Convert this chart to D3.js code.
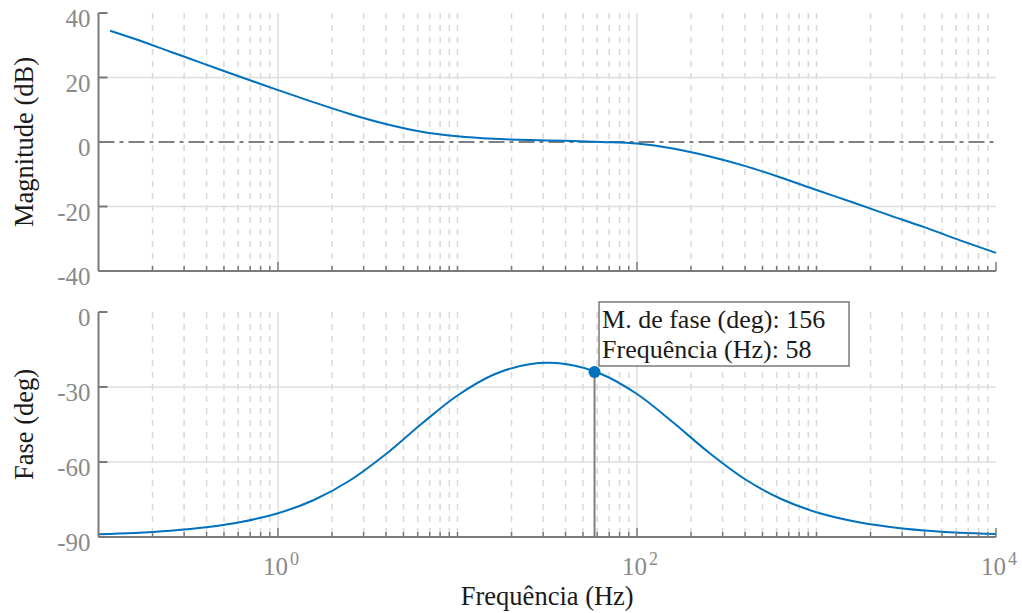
<!DOCTYPE html>
<html>
<head>
<meta charset="utf-8">
<script src="https://cdn.jsdelivr.net/npm/d3@7"></script>
<style>
  html, body { margin: 0; padding: 0; background: #fff; }
  svg { display: block; font-family: "Liberation Serif", "Times New Roman", serif; }
</style>
</head>
<body>
<svg id="chart" width="1022" height="613"></svg>
<script>
// ---- Data ----
const magFreq = [0.116, 0.1585, 0.2512, 0.3981, 0.631, 1, 1.585, 2.512, 3.981, 6.31, 10, 15.85, 25.12, 39.81, 63.1, 100, 158.5, 251.2, 398.1, 631, 1000, 1585, 2512, 3981, 6310, 10000];
const magDB   = [34.5, 32.0, 28.0, 24.0, 20.0, 16.1, 12.3, 8.7, 5.6, 3.2, 1.8, 1.0, 0.6, 0.4, 0.0, -0.5, -2.0, -4.4, -7.4, -11.0, -14.9, -18.7, -22.6, -26.4, -30.5, -34.4];

const phaseFreq = [0.1, 0.1585, 0.2512, 0.3981, 0.631, 1, 1.585, 2.512, 3.981, 6.31, 10, 15.85, 25.12, 39.81, 63.1, 100, 158.5, 251.2, 398.1, 631, 1000, 1585, 2512, 3981, 6310, 10000];
const phaseDeg  = [-88.9, -88.4, -87.5, -86.1, -83.9, -80.5, -75.2, -67.4, -56.9, -44.7, -33.4, -25.1, -20.9, -20.8, -24.8, -32.8, -44.1, -56.2, -66.8, -74.7, -80.1, -83.6, -85.9, -87.4, -88.3, -88.8];

const magTicks = [40, 20, 0, -20, -40];
const phaseTicks = [0, -30, -60, -90];
const xTickExponents = [0, 2, 4];

const markerFreq = 58;
const markerPhase = -24;
const markerLines = ["M. de fase (deg): 156", "Frequência (Hz): 58"];

const xLabel = "Frequência (Hz)";
const magLabel = "Magnitude (dB)";
const phaseLabel = "Fase (deg)";

// ---- Layout ----
const svg = d3.select("#chart");
const left = 98.5, right = 996;
const magTop = 13, magBottom = 271;
const phTop = 312, phBottom = 537;

const blue = "#0072BD";
const axisCol = "#7a7a7a";
const tickTextCol = "#8a8a8a";
const gridCol = "#dedede";
const minorCol = "#d8d8d8";

const x = d3.scaleLog().domain([0.1, 1e4]).range([left, right]);
const yMag = d3.scaleLinear().domain([-40, 40]).range([magBottom, magTop]);
const yPh = d3.scaleLinear().domain([-90, 0]).range([phBottom, phTop]);

// minor log positions (all except the labelled decades)
const majorVals = xTickExponents.map(e => Math.pow(10, e));
const minorVals = [];
for (let d = -1; d <= 3; d++) {
  for (let m = 1; m <= 9; m++) {
    const v = m * Math.pow(10, d);
    if (v <= 0.1 + 1e-9) continue;
    if (majorVals.some(mv => Math.abs(mv - v) < 1e-9)) continue;
    minorVals.push(v);
  }
}

function panel(y, top, bottom, ticks, zeroLine) {
  const g = svg.append("g");
  g.selectAll(".minor").data(minorVals).enter().append("line")
    .attr("x1", d => x(d)).attr("x2", d => x(d))
    .attr("y1", top).attr("y2", bottom)
    .attr("stroke", minorCol).attr("stroke-width", 1.5)
    .attr("stroke-dasharray", "6,6");
  g.selectAll(".major").data(majorVals.filter(v => x(v) < right - 1)).enter().append("line")
    .attr("x1", d => x(d)).attr("x2", d => x(d))
    .attr("y1", top).attr("y2", bottom)
    .attr("stroke", gridCol).attr("stroke-width", 1.5);
  const [lo, hi] = y.domain();
  g.selectAll(".hgrid").data(ticks.filter(t => t !== lo && t !== hi && !(zeroLine && t === 0))).enter().append("line")
    .attr("x1", left).attr("x2", right)
    .attr("y1", d => y(d)).attr("y2", d => y(d))
    .attr("stroke", gridCol).attr("stroke-width", 1.5);
  if (zeroLine) {
    g.append("line")
      .attr("x1", left).attr("x2", right)
      .attr("y1", y(0)).attr("y2", y(0))
      .attr("stroke", "#808080").attr("stroke-width", 2)
      .attr("stroke-dasharray", "16,5,4,5");
  }
  return g;
}

function axes(y, top, bottom, ticks, fmt) {
  const g = svg.append("g");
  g.append("line").attr("x1", left).attr("x2", right).attr("y1", bottom).attr("y2", bottom)
    .attr("stroke", axisCol).attr("stroke-width", 2);
  g.append("line").attr("x1", left).attr("x2", left).attr("y1", top).attr("y2", bottom)
    .attr("stroke", axisCol).attr("stroke-width", 2);
  g.selectAll(".xmin").data(minorVals).enter().append("line")
    .attr("x1", d => x(d)).attr("x2", d => x(d))
    .attr("y1", bottom).attr("y2", bottom - 5)
    .attr("stroke", axisCol).attr("stroke-width", 1.5);
  g.selectAll(".xmaj").data(majorVals).enter().append("line")
    .attr("x1", d => x(d)).attr("x2", d => x(d))
    .attr("y1", bottom).attr("y2", bottom - 9)
    .attr("stroke", axisCol).attr("stroke-width", 1.5);
  g.selectAll(".ytk").data(ticks).enter().append("line")
    .attr("x1", left).attr("x2", left + 9)
    .attr("y1", d => y(d)).attr("y2", d => y(d))
    .attr("stroke", axisCol).attr("stroke-width", 2);
  g.selectAll(".ylab").data(ticks).enter().append("text")
    .attr("x", left - 8).attr("y", d => y(d) + 14)
    .attr("text-anchor", "end")
    .attr("font-size", 25).attr("fill", tickTextCol)
    .text(fmt);
  return g;
}

panel(yMag, magTop, magBottom, magTicks, true);
panel(yPh, phTop, phBottom, phaseTicks, false);

const magLine = d3.line().x(d => x(d[0])).y(d => yMag(d[1])).curve(d3.curveMonotoneX);
svg.append("path").datum(magFreq.map((f, i) => [f, magDB[i]]))
  .attr("d", magLine).attr("fill", "none").attr("stroke", blue).attr("stroke-width", 2);

const phLine = d3.line().x(d => x(d[0])).y(d => yPh(d[1])).curve(d3.curveCatmullRom.alpha(0.5));
svg.append("path").datum(phaseFreq.map((f, i) => [f, phaseDeg[i]]))
  .attr("d", phLine).attr("fill", "none").attr("stroke", blue).attr("stroke-width", 2);

axes(yMag, magTop, magBottom, magTicks, d => String(d));
axes(yPh, phTop, phBottom, phaseTicks, d => String(d));

const xl = svg.append("g");
xTickExponents.forEach(e => {
  const t = xl.append("text")
    .attr("x", x(Math.pow(10, e)) + 3).attr("y", 575)
    .attr("text-anchor", "middle").attr("fill", tickTextCol).attr("font-size", 25);
  t.append("tspan").text("10");
  t.append("tspan").attr("dy", -10).attr("dx", 2).attr("font-size", 18).text(String(e));
});

svg.append("text").attr("x", (left + right) / 2).attr("y", 605)
  .attr("text-anchor", "middle").attr("font-size", 26.5).attr("fill", "#1a1a1a").text(xLabel);
svg.append("text").attr("transform", `translate(32.5,${(magTop + magBottom) / 2}) rotate(-90)`)
  .attr("text-anchor", "middle").attr("font-size", 26.5).attr("fill", "#1a1a1a").text(magLabel);
svg.append("text").attr("transform", `translate(32.5,${(phTop + phBottom) / 2}) rotate(-90)`)
  .attr("text-anchor", "middle").attr("font-size", 26.5).attr("fill", "#1a1a1a").text(phaseLabel);

const mx = x(markerFreq), my = yPh(markerPhase);
svg.append("line").attr("x1", mx).attr("x2", mx).attr("y1", my).attr("y2", phBottom)
  .attr("stroke", "#808080").attr("stroke-width", 2);
svg.append("circle").attr("cx", mx).attr("cy", my).attr("r", 6).attr("fill", blue);
const boxX = mx + 4.5, boxY = 302, boxW = 250, boxH = 64;
svg.append("rect").attr("x", boxX).attr("y", boxY).attr("width", boxW).attr("height", boxH)
  .attr("fill", "#fff").attr("stroke", "#7a7a7a").attr("stroke-width", 1.5);
markerLines.forEach((s, i) => {
  svg.append("text").attr("x", boxX + 3).attr("y", boxY + 26 + i * 30)
    .attr("font-size", 26).attr("fill", "#1a1a1a").text(s);
});
</script>
</body>
</html>
